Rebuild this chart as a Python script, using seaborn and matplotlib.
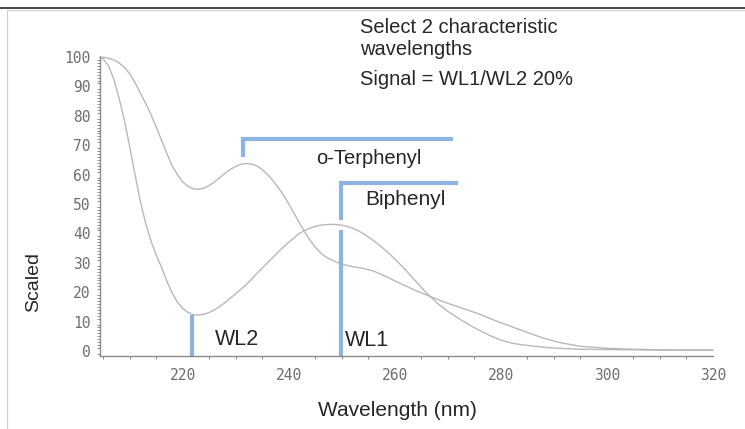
import matplotlib
matplotlib.use("Agg")
import matplotlib.pyplot as plt
from matplotlib.ticker import MultipleLocator
from matplotlib.lines import Line2D
import seaborn as sns
import pandas as pd
from matplotlib import font_manager

# ---------------- data ----------------
terphenyl_wl = [204.4, 205, 206, 207, 208, 209, 210, 211, 212, 213, 214, 215, 216, 217, 218,
                219, 220, 221, 222, 223, 224, 225, 226, 227, 228, 229, 230, 231, 232, 233,
                234, 235, 236, 237, 238, 239, 240, 241, 242, 243, 244, 245, 246, 247, 248,
                249, 250, 251, 252, 254, 256, 258, 261, 264, 267, 270, 273, 276, 279, 282,
                285, 288, 291, 295, 300, 305, 310, 315, 320]
terphenyl_val = [100, 99.9, 99.6, 99, 98, 96.5, 94.3, 91.3, 87.8, 84.2, 80.5, 76.2, 71.7, 67.2, 63,
                 60, 57.5, 56, 55.2, 55, 55.4, 56.3, 57.5, 59, 60.5, 61.8, 62.8, 63.5, 63.8, 63.6,
                 62.9, 61.7, 60, 58, 55.6, 53, 50, 46.8, 43.6, 40.5, 37.7, 35.3, 33.4, 32, 31,
                 30.2, 29.6, 29.1, 28.7, 28.1, 27.2, 25.6, 23, 20.5, 18.3, 16.2, 14.4, 12.5, 10.3, 8.3,
                 6.3, 4.4, 2.9, 1.6, 0.9, 0.6, 0.4, 0.3, 0.3]

biphenyl_wl = [204.4, 205, 206, 207, 208, 209, 210, 211, 212, 213, 214, 215, 216, 217, 218,
               219, 220, 221, 222, 223, 224, 225, 226, 227, 228, 230, 232, 234, 236, 238,
               240, 242, 243, 244, 245, 246, 247, 248, 249, 250, 251, 252, 253, 254, 255,
               256, 257, 258, 259, 260, 262, 264, 266, 268, 270, 272, 274, 276, 278, 280,
               282, 284, 286, 288, 290, 295, 300, 305, 310, 320]
biphenyl_val = [100, 99.3, 97, 92.5, 86, 78.5, 69.5, 60, 51, 43.5, 37.5, 32.6, 28.5, 23.8, 19.8,
                16.6, 14.5, 13.1, 12.4, 12.2, 12.5, 13.1, 14, 15.2, 16.5, 19.5, 22.6, 26.4, 30, 33.7,
                37, 40, 41, 41.8, 42.4, 42.8, 43, 43.1, 43, 42.8, 42.4, 41.8, 41, 40, 38.8,
                37.5, 36.1, 34.6, 33, 31.3, 27.6, 23.6, 19.7, 16.3, 13.5, 11.1, 8.9, 7, 5.2, 3.7,
                2.7, 2.1, 1.7, 1.3, 1.0, 0.6, 0.5, 0.4, 0.3, 0.3]

x_ticks = [220, 240, 260, 280, 300, 320]
y_ticks = [0, 10, 20, 30, 40, 50, 60, 70, 80, 90, 100]

wl1 = 249.8          # selected wavelength WL1
wl2 = 221.7          # selected wavelength WL2
terphenyl_mark = 231.3

# ---------------- style ----------------
sns.set_style("white")


def pick(name, fallback):
    try:
        font_manager.findfont(name, fallback_to_default=False)
        return name
    except Exception:
        return fallback


sans = pick("Liberation Sans", "DejaVu Sans")
mono = "DejaVu Sans Mono"
plt.rcParams["font.family"] = [sans, "DejaVu Sans"]

W, H = 745, 429
fig = plt.figure(figsize=(W / 100, H / 100), dpi=100)


def fx(px):
    return px / W


def fy(py):
    return 1 - py / H


ax = fig.add_axes([fx(100), fy(356), fx(713) - fx(100), fy(57) - fy(356)])

df = pd.concat([
    pd.DataFrame({"Wavelength": terphenyl_wl, "Scaled": terphenyl_val, "compound": "o-Terphenyl"}),
    pd.DataFrame({"Wavelength": biphenyl_wl, "Scaled": biphenyl_val, "compound": "Biphenyl"}),
])
line_grey = "#b8b8b8"
sns.lineplot(data=df, x="Wavelength", y="Scaled", hue="compound",
             palette={"o-Terphenyl": line_grey, "Biphenyl": line_grey},
             linewidth=1.0, legend=False, ax=ax, sort=False, clip_on=False)

ax.set_xlim(204.4, 320)
ax.set_ylim(-1.7, 100)
ax.set_xlabel("")
ax.set_ylabel("")

axis_grey = "#8a8a8a"
for s in ["top", "right"]:
    ax.spines[s].set_visible(False)
for s in ["left", "bottom"]:
    ax.spines[s].set_color(axis_grey)
    ax.spines[s].set_linewidth(1.0)

ax.set_xticks(x_ticks)
ax.set_yticks(y_ticks)
ax.xaxis.set_minor_locator(MultipleLocator(5))
ax.yaxis.set_minor_locator(MultipleLocator(1))
ax.tick_params(axis="both", which="major", direction="out", color=axis_grey,
               labelcolor="#6e6e6e", width=0.9)
ax.tick_params(axis="y", which="major", length=5, pad=2)
ax.tick_params(axis="x", which="major", length=4, pad=5)
ax.tick_params(axis="y", which="minor", length=2.5, color=axis_grey, width=0.7, left=True)
ax.tick_params(axis="x", which="minor", length=2, color=axis_grey, width=0.7, bottom=True)
for lab in ax.get_xticklabels() + ax.get_yticklabels():
    lab.set_fontfamily(mono)
    lab.set_fontsize(10.5)

# ---------------- blue selection markers ----------------
blue = "#8db3e2"
lw_b = 3.0
ax.plot([wl2, wl2], [12.2, -1.7], color=blue, lw=lw_b, solid_capstyle="butt", clip_on=False)
ax.plot([wl1, wl1], [41.2, -1.7], color=blue, lw=lw_b, solid_capstyle="butt", clip_on=False)
ax.plot([wl1, wl1, 271.9], [44.6, 57.1, 57.1], color=blue, lw=lw_b,
        solid_capstyle="butt", solid_joinstyle="miter", clip_on=False)
ax.plot([terphenyl_mark, terphenyl_mark, 270.9], [66.0, 72.2, 72.2], color=blue, lw=lw_b,
        solid_capstyle="butt", solid_joinstyle="miter", clip_on=False)

# ---------------- texts ----------------
fig.text(fx(316), fy(164), "o-Terphenyl", fontsize=14.5, va="baseline", ha="left")
fig.text(fx(365), fy(205), "Biphenyl", fontsize=15, va="baseline", ha="left")
fig.text(fx(215), fy(345), "WL2", fontsize=15.5, va="baseline", ha="left")
fig.text(fx(345), fy(346), "WL1", fontsize=15.5, va="baseline", ha="left")
fig.text(fx(360), fy(33), "Select 2 characteristic", fontsize=14.5, va="baseline", ha="left")
fig.text(fx(360), fy(55), "wavelengths", fontsize=14.5, va="baseline", ha="left")
fig.text(fx(360), fy(85), "Signal = WL1/WL2 20%", fontsize=14.5, va="baseline", ha="left")
fig.text(fx(397), fy(416), "Wavelength (nm)", fontsize=15, va="baseline", ha="center")
fig.text(fx(34), fy(282), "Scaled", fontsize=14, rotation=90, va="center", ha="center")

# ---------------- frame ----------------
fig.add_artist(Line2D([0, 1], [fy(8), fy(8)], transform=fig.transFigure, color="#3a3a3a", lw=1.3))
fig.add_artist(Line2D([fx(7), 1], [fy(10), fy(10)], transform=fig.transFigure, color="#cfcfcf", lw=0.8))
fig.add_artist(Line2D([fx(7), fx(7)], [fy(10), 0], transform=fig.transFigure, color="#cfcfcf", lw=0.8))

fig.savefig("out.png", dpi=100)
